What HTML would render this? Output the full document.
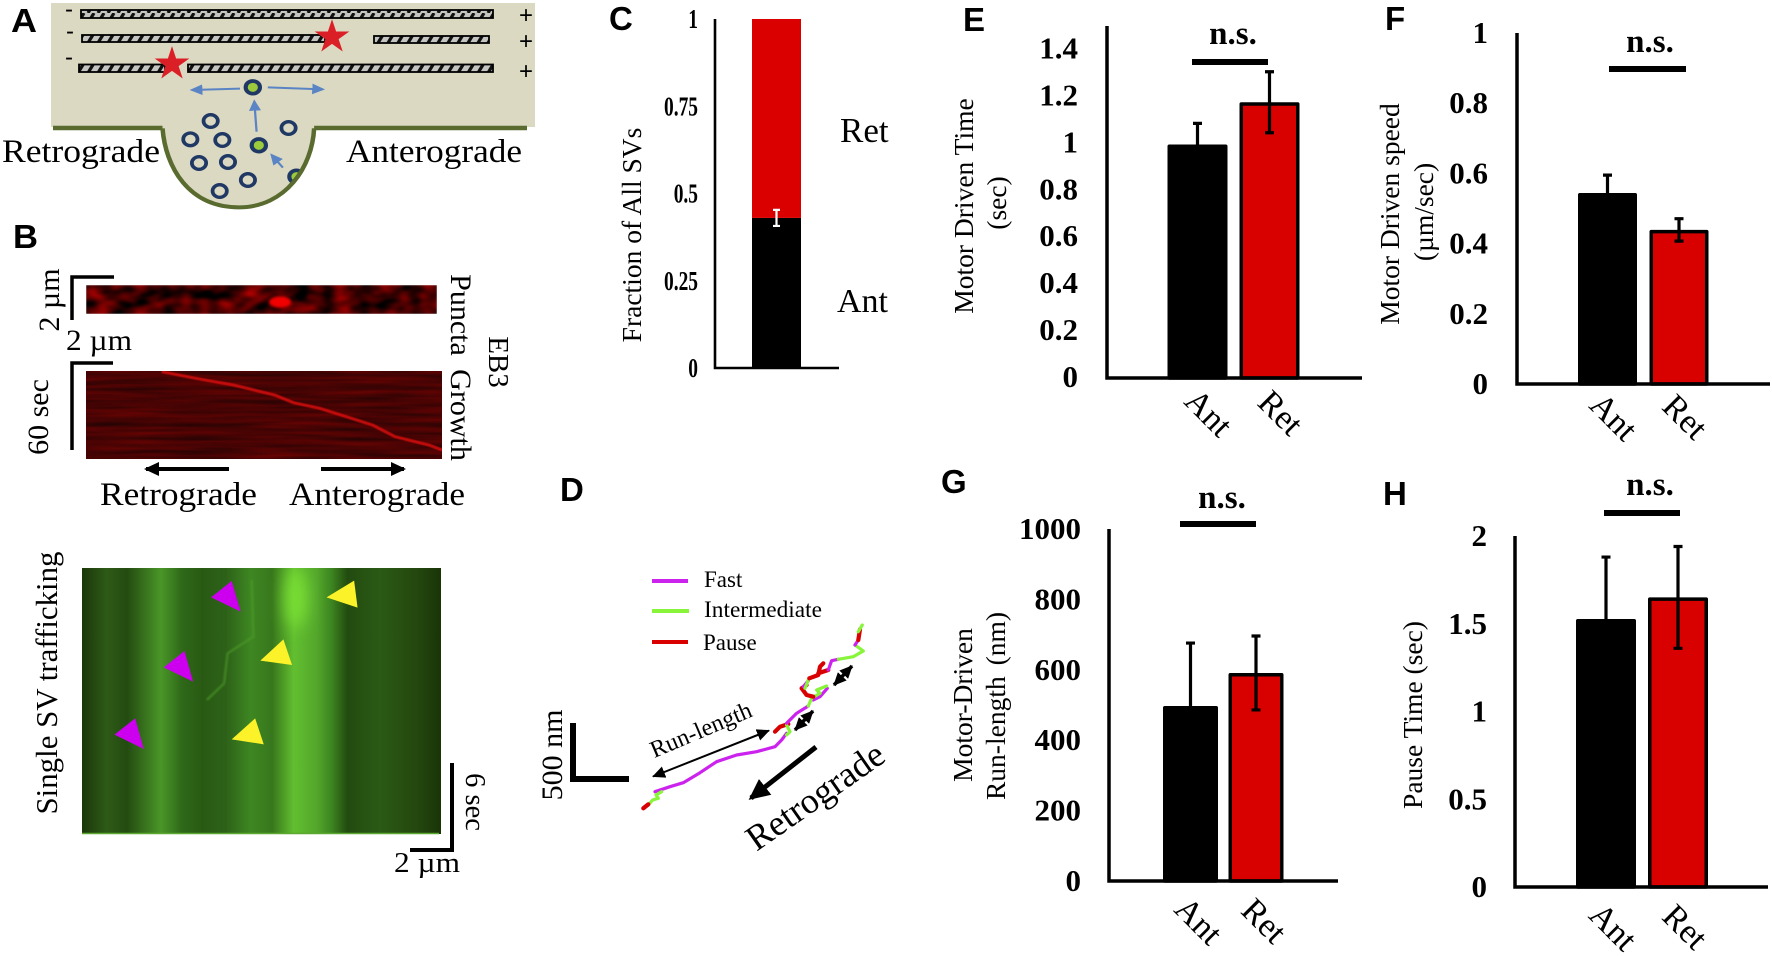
<!DOCTYPE html>
<html lang="en">
<head>
<meta charset="utf-8">
<title>Synaptic vesicle trafficking figure</title>
<style>
html,body{margin:0;padding:0;background:#fff;width:1772px;height:956px;overflow:hidden}
svg{display:block}
text{font-family:"Liberation Serif",serif;fill:#000}
.panel{font-family:"Liberation Sans",sans-serif;font-weight:700;font-size:33px}
.sign{font-family:"Liberation Sans",sans-serif;font-size:24px}
</style>
</head>
<body>
<svg id="figure" xmlns="http://www.w3.org/2000/svg" width="1772" height="956" viewBox="0 0 1772 956">
<defs>
  <pattern id="mt" patternUnits="userSpaceOnUse" width="10" height="10" patternTransform="translate(0 3)">
    <rect width="10" height="10" fill="#c4c4c1"/>
    <path d="M-2,10 L4,0 M8,10 L14,0" stroke="#111" stroke-width="3.2"/>
  </pattern>
  <marker id="head" markerUnits="userSpaceOnUse" markerWidth="16" markerHeight="16" refX="13" refY="8" orient="auto-start-reverse"><path d="M0,1 L15,8 L0,15 Z" fill="#000"/></marker>
  <marker id="headLarge" markerUnits="userSpaceOnUse" markerWidth="22" markerHeight="20" refX="18" refY="10" orient="auto"><path d="M0,0 L21,10 L0,20 Z" fill="#000"/></marker>
  <marker id="headSmall" markerUnits="userSpaceOnUse" markerWidth="14" markerHeight="12" refX="12" refY="6" orient="auto-start-reverse"><path d="M0,0 L13,6 L0,12 Z" fill="#000"/></marker>
  <marker id="headBlue" markerUnits="userSpaceOnUse" markerWidth="36" markerHeight="36" refX="28" refY="18" orient="auto"><path d="M0,2 L34,18 L0,34 Z" fill="#5B84C4"/></marker>
  <clipPath id="bulbClip"><path d="M432,385 C440,500 500,622 635,622 C760,622 830,500 835,385 Z"/></clipPath>
  <clipPath id="kymoClip"><rect x="82" y="568" width="359" height="266"/></clipPath>
  <clipPath id="cometClip"><rect x="86" y="371" width="356" height="88"/></clipPath>
  <filter id="noiseA" x="0" y="0" width="100%" height="100%" color-interpolation-filters="sRGB">
    <feTurbulence type="fractalNoise" baseFrequency=".045 .08" numOctaves="2" seed="4"/>
    <feColorMatrix type="matrix" values="1.1 0 0 0 -.28  0 0 0 0 0  0 0 0 0 0  0 0 0 0 1"/>
    <feGaussianBlur stdDeviation=".8"/>
  </filter>
  <filter id="noiseB" x="0" y="0" width="100%" height="100%" color-interpolation-filters="sRGB">
    <feTurbulence type="fractalNoise" baseFrequency=".012 .22" numOctaves="2" seed="7"/>
    <feColorMatrix type="matrix" values=".35 0 0 0 .11  0 0 0 0 .01  0 0 0 0 .01  0 0 0 0 1"/>
  </filter>
  <filter id="blur1" x="-10%" y="-30%" width="120%" height="160%"><feGaussianBlur stdDeviation="1.300"/></filter>
  <filter id="blur3" x="-30%" y="-30%" width="160%" height="160%"><feGaussianBlur stdDeviation="2.500"/></filter>
  <filter id="blur8" x="-80%" y="-50%" width="260%" height="200%"><feGaussianBlur stdDeviation="8"/></filter>
  <linearGradient id="bands" x1="0" x2="1" y1="0" y2="0">
    <stop offset="0" stop-color="#1b380b"/><stop offset=".07" stop-color="#2e5a17"/>
    <stop offset=".125" stop-color="#234b11"/><stop offset=".22" stop-color="#4a9628"/>
    <stop offset=".28" stop-color="#2e6818"/><stop offset=".335" stop-color="#295a14"/>
    <stop offset=".40" stop-color="#2d6118"/><stop offset=".47" stop-color="#3e8722"/>
    <stop offset=".53" stop-color="#38771d"/><stop offset=".59" stop-color="#62bf30"/>
    <stop offset=".655" stop-color="#53a62b"/><stop offset=".695" stop-color="#3d8520"/>
    <stop offset=".74" stop-color="#224b10"/><stop offset=".83" stop-color="#2b5a15"/>
    <stop offset=".93" stop-color="#24480f"/><stop offset="1" stop-color="#193407"/>
  </linearGradient>
</defs>

<!-- Panel letters -->
<text class="panel" x="11" y="32" textLength="26" lengthAdjust="spacingAndGlyphs">A</text>
<text class="panel" x="13" y="248" textLength="25" lengthAdjust="spacingAndGlyphs">B</text>
<text class="panel" x="609" y="30">C</text>
<text class="panel" x="560" y="501">D</text>
<text class="panel" x="963" y="31">E</text>
<text class="panel" x="1385" y="30">F</text>
<text class="panel" x="941" y="493">G</text>
<text class="panel" x="1383" y="505">H</text>

<!-- Panel A schematic -->
<g>
  <rect x="51" y="3" width="484" height="124" fill="#DBD9C2"/>
  <path d="M53,128 H165" stroke="#5A6B2F" stroke-width="4.5" fill="none"/>
  <path d="M314,128 H527" stroke="#5A6B2F" stroke-width="4.5" fill="none"/>
  <rect x="81" y="10" width="412" height="8" fill="url(#mt)" stroke="#000" stroke-width="1.800"/>
  <rect x="82" y="35" width="243" height="7" fill="url(#mt)" stroke="#000" stroke-width="1.800"/>
  <rect x="374" y="36" width="115" height="7" fill="url(#mt)" stroke="#000" stroke-width="1.800"/>
  <rect x="79" y="64.500" width="86" height="7.500" fill="url(#mt)" stroke="#000" stroke-width="1.800"/>
  <rect x="188" y="64.500" width="305" height="7.500" fill="url(#mt)" stroke="#000" stroke-width="1.800"/>
  <polygon transform="translate(332,37) scale(1.14,1.12)" points="0,-16 3.6,-4.9 15.2,-4.9 5.8,1.9 9.4,12.9 0,6.1 -9.4,12.9 -5.8,1.9 -15.2,-4.9 -3.6,-4.9" fill="#DB1F26"/>
  <polygon transform="translate(172,64) scale(1.14,1.12)" points="0,-16 3.6,-4.9 15.2,-4.9 5.8,1.9 9.4,12.9 0,6.1 -9.4,12.9 -5.8,1.9 -15.2,-4.9 -3.6,-4.9" fill="#DB1F26"/>
  <text class="sign" x="65" y="17">-</text>
  <text class="sign" x="66" y="39">-</text>
  <text class="sign" x="65" y="65">-</text>
  <text class="sign" x="519" y="23">+</text>
  <text class="sign" x="519" y="49">+</text>
  <text class="sign" x="519" y="79">+</text>
  <g transform="scale(.3762,.33333)">
    <path d="M432,370 L432,385 C440,500 500,622 635,622 C760,622 830,500 835,385 L835,370 Z" fill="#DBD9C2"/>
    <g fill="none" stroke="#1F3864" stroke-width="10">
      <circle cx="560" cy="363" r="19"/>
      <circle cx="506" cy="418" r="19"/>
      <circle cx="591" cy="420" r="19"/>
      <circle cx="529" cy="489" r="19"/>
      <circle cx="606" cy="486" r="19"/>
      <circle cx="659" cy="540" r="19"/>
      <circle cx="584" cy="573" r="19"/>
      <circle cx="767" cy="384" r="19"/>
    </g>
    <g fill="#9BCB3C" stroke="#1F3864" stroke-width="11">
      <circle cx="672" cy="262" r="19"/>
      <circle cx="688" cy="436" r="19"/>
      <circle cx="788" cy="530" r="19" clip-path="url(#bulbClip)"/>
    </g>
    <path d="M432,385 C440,500 500,622 635,622 C760,622 830,500 835,385" fill="none" stroke="#5A6B2F" stroke-width="12"/>
    <g stroke="#5B84C4" stroke-width="6" fill="none">
      <line x1="638" y1="266" x2="510" y2="270" marker-end="url(#headBlue)"/>
      <line x1="712" y1="262" x2="858" y2="268" marker-end="url(#headBlue)"/>
      <line x1="682" y1="395" x2="676" y2="304" marker-end="url(#headBlue)"/>
      <line x1="752" y1="503" x2="722" y2="465" marker-end="url(#headBlue)"/>
    </g>
  </g>
  <text x="2" y="162" textLength="158" lengthAdjust="spacingAndGlyphs" style="font-size:33px">Retrograde</text>
  <text x="346" y="162" textLength="176" lengthAdjust="spacingAndGlyphs" style="font-size:33px">Anterograde</text>
</g>

<!-- Panel B images -->
<g>
  <path d="M114,277 H72 V320" fill="none" stroke="#000" stroke-width="3.500"/>
  <text transform="translate(59,300) rotate(-90)" text-anchor="middle" style="font-size:30px">2 µm</text>
  <text x="66" y="350" textLength="66" lengthAdjust="spacingAndGlyphs" style="font-size:30px">2 µm</text>
  <rect x="86" y="285" width="351" height="29" filter="url(#noiseA)"/>
  <ellipse cx="280" cy="302" rx="11" ry="5.500" fill="#f00000" filter="url(#blur1)"/>
  <path d="M113,363 H72 V450" fill="none" stroke="#000" stroke-width="3.500"/>
  <text transform="translate(48,417) rotate(-90)" text-anchor="middle" style="font-size:30px">60 sec</text>
  <rect x="86" y="371" width="356" height="88" filter="url(#noiseB)"/>
  <g clip-path="url(#cometClip)">
    <path transform="scale(.3762,.33333)" d="M430,1115 L520,1135 L620,1155 L730,1185 L780,1208 L850,1225 L990,1275 L1050,1310 L1140,1335 L1175,1350" fill="none" stroke="#d81010" stroke-width="9" opacity=".85" filter="url(#blur1)"/>
  </g>
  <text transform="translate(451,315) rotate(90)" text-anchor="middle" style="font-size:30px">Puncta</text>
  <text transform="translate(451,415) rotate(90)" text-anchor="middle" style="font-size:30px">Growth</text>
  <text transform="translate(489,362) rotate(90)" text-anchor="middle" style="font-size:29px">EB3</text>
  <line x1="229" y1="469" x2="146" y2="469" stroke="#000" stroke-width="4" marker-end="url(#head)"/>
  <line x1="321" y1="469" x2="404" y2="469" stroke="#000" stroke-width="4" marker-end="url(#head)"/>
  <text x="100" y="505" textLength="157" lengthAdjust="spacingAndGlyphs" style="font-size:33px">Retrograde</text>
  <text x="289" y="505" textLength="176" lengthAdjust="spacingAndGlyphs" style="font-size:33px">Anterograde</text>
</g>

<g>
  <text transform="translate(57,683) rotate(-90)" text-anchor="middle" textLength="263" lengthAdjust="spacingAndGlyphs" style="font-size:30.500px">Single SV trafficking</text>
  <rect x="82" y="568" width="359" height="266" fill="url(#bands)"/>
  <g clip-path="url(#kymoClip)">
    <ellipse cx="296" cy="598" rx="11" ry="30" fill="#7fe636" opacity=".85" filter="url(#blur8)"/>
    <path transform="translate(0,480) scale(.3448,.33333)" d="M730,300 L735,470 L660,520 L650,610 L600,660" fill="none" stroke="#4f9e2a" stroke-width="8" opacity=".5" filter="url(#blur3)"/>
  </g>
  <line x1="82" y1="833.500" x2="439" y2="833.500" stroke="#5aa830" stroke-width="1.500"/>
  <g transform="translate(0,480) scale(.3448,.33333)">
    <polygon points="672,303 612,352 698,395" fill="#CC00EE"/>
    <polygon points="535,513 475,562 560,605" fill="#CC00EE"/>
    <polygon points="392,715 332,764 417,807" fill="#CC00EE"/>
    <polygon points="1027,302 947,352 1037,383" fill="#FBF22A"/>
    <polygon points="822,478 755,542 847,555" fill="#FBF22A"/>
    <polygon points="740,715 672,778 765,793" fill="#FBF22A"/>
  </g>
  <path d="M410,850 H452 V763" fill="none" stroke="#000" stroke-width="4"/>
  <text x="394" y="872" textLength="66" lengthAdjust="spacingAndGlyphs" style="font-size:29px">2 µm</text>
  <text transform="translate(466,802) rotate(90)" text-anchor="middle" style="font-size:28.500px">6 sec</text>
</g>

<!-- Panel D static annotation -->
<g>
  <line x1="652" y1="581" x2="688" y2="581" stroke="#CC22EE" stroke-width="4"/>
  <line x1="652" y1="611" x2="689" y2="611" stroke="#88F53A" stroke-width="4"/>
  <line x1="652" y1="642" x2="688" y2="642" stroke="#D80000" stroke-width="4"/>
  <text x="704" y="587" style="font-size:23px">Fast</text>
  <text x="704" y="617" textLength="118" lengthAdjust="spacingAndGlyphs" style="font-size:23px">Intermediate</text>
  <text x="703" y="650" style="font-size:23px">Pause</text>
  <path d="M573,723 V779 H629" fill="none" stroke="#000" stroke-width="6"/>
  <text transform="translate(562,755) rotate(-90)" text-anchor="middle" style="font-size:30px">500 nm</text>
  <text transform="translate(704,737) rotate(-23)" text-anchor="middle" style="font-size:24px">Run-length</text>
  <line x1="653" y1="776.500" x2="769" y2="730.500" stroke="#000" stroke-width="2" marker-start="url(#headSmall)" marker-end="url(#headSmall)"/>
  <line x1="795" y1="730" x2="813" y2="711" stroke="#000" stroke-width="3.500" marker-start="url(#headSmall)" marker-end="url(#headSmall)"/>
  <line x1="834" y1="685" x2="852" y2="666" stroke="#000" stroke-width="3.500" marker-start="url(#headSmall)" marker-end="url(#headSmall)"/>
  <line x1="816" y1="747" x2="751" y2="798" stroke="#000" stroke-width="5" marker-end="url(#headLarge)"/>
  <text transform="translate(822,806) rotate(-35)" text-anchor="middle" style="font-size:36px">Retrograde</text>
</g>

<!-- Static titles for the bar charts -->
<g>
  <text transform="translate(641,235) rotate(-90)" text-anchor="middle" style="font-size:27.500px">Fraction of All SVs</text>
  <text x="840" y="142" style="font-size:35px">Ret</text>
  <text x="837" y="312" style="font-size:34px">Ant</text>
</g>
<g>
  <text transform="translate(973,206) rotate(-90)" text-anchor="middle" style="font-size:27.500px">Motor Driven Time</text>
  <text transform="translate(1006,203) rotate(-90)" text-anchor="middle" style="font-size:27.500px">(sec)</text>
  <text transform="translate(1399,214) rotate(-90)" text-anchor="middle" style="font-size:27.500px">Motor Driven speed</text>
  <text transform="translate(1433,212) rotate(-90)" text-anchor="middle" style="font-size:27.500px">(µm/sec)</text>
  <text transform="translate(972,705) rotate(-90)" text-anchor="middle" style="font-size:27.500px">Motor-Driven</text>
  <text transform="translate(1005,706) rotate(-90)" text-anchor="middle" style="font-size:27.500px;word-spacing:4px">Run-length (nm)</text>
  <text transform="translate(1422,715) rotate(-90)" text-anchor="middle" style="font-size:27.500px">Pause Time (sec)</text>
</g>

<script>
// Shared categories
const categories = ['Ant', 'Ret'];

// Panel C: stacked fraction
const cTickLabels = ['0', '0.25', '0.5', '0.75', '1'];
const cAntFraction = 0.43;
const cRetFraction = 0.57;
const cAntError = 0.023;

// Panel E: motor driven time
const eTickLabels = ['0', '0.2', '0.4', '0.6', '0.8', '1', '1.2', '1.4'];
const eValues = [0.995, 1.175];
const eErrors = [0.09, 0.13];

// Panel F: motor driven speed
const fTickLabels = ['0', '0.2', '0.4', '0.6', '0.8', '1'];
const fValues = [0.544, 0.439];
const fErrors = [0.051, 0.032];

// Panel G: run length
const gTickLabels = ['0', '200', '400', '600', '800', '1000'];
const gValues = [497, 591];
const gErrors = [179, 105];

// Panel H: pause time
const hTickLabels = ['0', '0.5', '1', '1.5', '2'];
const hValues = [1.527, 1.65];
const hErrors = [0.353, 0.29];

// Panel D: trajectory segments, in nm from the lower-left end of the track
const trackStates = ['fast','intermediate','pause','pause','intermediate','fast','fast','intermediate','pause','fast','intermediate','pause','pause','fast','intermediate','fast','pause','intermediate'];
const trackXNm = [
  [105,240,360,510,660,840,1020,1185,1245,1290],
  [45,84,135,114,165],
  [0,45],
  [1185,1230,1305],
  [1290,1320,1290],
  [1290,1380,1485],
  [1530,1590,1656],
  [1485,1515,1590,1560,1650],
  [1470,1425,1470,1530],
  [1440,1485],
  [1485,1455],
  [1494,1575,1590,1620],
  [1575,1665],
  [1665,1695,1755],
  [1755,1890,1980,1905],
  [1905,1935],
  [1935,1950],
  [1935,1971]
];
const trackYNm = [
  [165,210,246,336,435,495,525,570,630,690],
  [45,90,105,135,165],
  [15,51],
  [705,750,774],
  [765,705,675],
  [780,870,936],
  [990,1020,1095],
  [936,1005,1050,1080,1116],
  [1125,1095,1035,1020],
  [1110,1164],
  [1170,1095],
  [1185,1215,1290,1320],
  [1230,1260],
  [1260,1344,1356],
  [1356,1380,1431,1485],
  [1485,1530],
  [1530,1626],
  [1605,1665]
];
const trackColors = { fast: '#CC22EE', intermediate: '#88F53A', pause: '#D80000' };

const NS = 'http://www.w3.org/2000/svg';
const root = document.getElementById('figure');

function make(tag, attrs, parent) {
  const node = document.createElementNS(NS, tag);
  for (const key in attrs) node.setAttribute(key, attrs[key]);
  parent.appendChild(node);
  return node;
}

function drawBarChart(cfg, tickLabels, values, errors) {
  const g = make('g', {}, root);
  
  
  const yScale = v => cfg.yBase - (v / cfg.yMax) * (cfg.yBase - cfg.yTop);
  const xScale = i => cfg.xFirst + i * cfg.step;

  tickLabels.forEach(label => {
    const t = make('text', {
      x: cfg.labelRight, y: yScale(parseFloat(label)) + 10 + cfg.tickDy,
      'text-anchor': 'end', 'font-weight': '700',
      style: 'font-size:31px'
    }, g);
    t.textContent = label;
    
    
  });

  values.forEach((v, i) => {
    const isRet = i === 1;
    const bar = make('rect', {
      x: xScale(i) - cfg.barWidth / 2 + 1.75, y: yScale(v) + 1.75,
      width: cfg.barWidth - 3.5, height: Math.max(0, yScale(0) - yScale(v) - 1.75),
      fill: isRet ? '#D90000' : '#000', stroke: '#000', 'stroke-width': 3.5,
      'stroke-linejoin': 'round'
    }, g);
    
    

    const hi = yScale(v + errors[i]);
    const lo = yScale(v - errors[i]);
    const err = make('path', {
      d: 'M' + (xScale(i) - 4.5) + ',' + hi + ' H' + (xScale(i) + 4.5) +
         ' M' + xScale(i) + ',' + hi + ' V' + lo +
         ' M' + (xScale(i) - 4.5) + ',' + lo + ' H' + (xScale(i) + 4.5),
      stroke: '#000', 'stroke-width': 3.2, fill: 'none'
    }, g);
    
    

    const lab = make('text', {
      transform: 'translate(' + (xScale(i) + cfg.labelDx) + ',' + (cfg.yBase + cfg.labelDy) + ') rotate(45)',
      'text-anchor': 'middle', y: 11, style: 'font-size:34px'
    }, g);
    lab.textContent = categories[i];
    
    
  });

  const axes = make('path', {
    d: 'M' + cfg.xAxis + ',' + cfg.yTop + ' V' + cfg.yBase + ' H' + cfg.xRight,
    stroke: '#000', 'stroke-width': 3.5, fill: 'none'
  }, g);
  
  

  const sig = make('line', {
    x1: cfg.sigX1, x2: cfg.sigX2, y1: cfg.sigY, y2: cfg.sigY, stroke: '#000', 'stroke-width': 6
  }, g);
  
  

  const ns = make('text', {
    x: cfg.nsX, y: cfg.nsY, 'text-anchor': 'middle', 'font-weight': '700', style: 'font-size:33px'
  }, g);
  ns.textContent = 'n.s.';
  
  
}

drawBarChart({ xAxis: 1107, xRight: 1362, yBase: 378, yTop: 26, yMax: 1.5, labelRight: 1078, tickDy: -1,
  xFirst: 1197.5, step: 72, barWidth: 60, labelDx: 11, labelDy: 35,
  sigX1: 1192, sigX2: 1268, sigY: 62, nsX: 1233, nsY: 44 }, eTickLabels, eValues, eErrors);

drawBarChart({ xAxis: 1517, xRight: 1770, yBase: 384, yTop: 33, yMax: 1, labelRight: 1488, tickDy: 0,
  xFirst: 1607.5, step: 71.5, barWidth: 59, labelDx: 6, labelDy: 33,
  sigX1: 1609, sigX2: 1686, sigY: 69, nsX: 1650, nsY: 52 }, fTickLabels, fValues, fErrors);

drawBarChart({ xAxis: 1109, xRight: 1338, yBase: 881, yTop: 529, yMax: 1000, labelRight: 1081, tickDy: 0,
  xFirst: 1190.5, step: 65.5, barWidth: 55, labelDx: 8, labelDy: 40,
  sigX1: 1180, sigX2: 1256, sigY: 524, nsX: 1222, nsY: 508 }, gTickLabels, gValues, gErrors);

drawBarChart({ xAxis: 1515, xRight: 1768, yBase: 887, yTop: 536, yMax: 2, labelRight: 1487, tickDy: 0,
  xFirst: 1606, step: 72, barWidth: 60, labelDx: 7, labelDy: 40,
  sigX1: 1604, sigX2: 1680, sigY: 513, nsX: 1650, nsY: 495 }, hTickLabels, hValues, hErrors);

// Panel C stacked bar
(function drawStacked() {
  const g = make('g', {}, root);
  
  
  const yBase = 368, yTop = 19, xAxis = 715, xRight = 839, barX = 752, barW = 49;
  const yScale = v => yBase - v * (yBase - yTop);

  cTickLabels.forEach(label => {
    const t = make('text', {
      transform: 'translate(698,' + (yScale(parseFloat(label)) + 9) + ') scale(.72,1)',
      'text-anchor': 'end', 'font-weight': '700', style: 'font-size:27px'
    }, g);
    t.textContent = label;
    
    
  });

  const ant = make('rect', { x: barX, y: yScale(cAntFraction), width: barW, height: yScale(0) - yScale(cAntFraction), fill: '#000' }, g);
  
  

  const ret = make('rect', { x: barX, y: yScale(cAntFraction + cRetFraction), width: barW, height: yScale(cAntFraction) - yScale(cAntFraction + cRetFraction), fill: '#DA0000' }, g);
  
  

  const cx = barX + barW / 2;
  const hi = yScale(cAntFraction + cAntError);
  const lo = yScale(cAntFraction - cAntError);
  const err = make('path', {
    d: 'M' + (cx - 3.5) + ',' + hi + ' H' + (cx + 3.5) + ' M' + cx + ',' + hi + ' V' + lo + ' M' + (cx - 3.5) + ',' + lo + ' H' + (cx + 3.5),
    stroke: '#fff', 'stroke-width': 2.2, fill: 'none'
  }, g);
  
  

  const axes = make('path', { d: 'M' + xAxis + ',' + yTop + ' V' + yBase + ' H' + xRight, stroke: '#000', 'stroke-width': 2.6, fill: 'none' }, g);
  
  
})();

// Panel D trajectory
(function drawTrack() {
  const g = make('g', {}, root);
  
  
  const xNm = nm => 643.3 + nm / 9;
  const yNm = nm => 810 - nm / 9;
  trackStates.forEach((state, s) => {
    const pts = trackXNm[s].map((x, i) => xNm(x).toFixed(1) + ',' + yNm(trackYNm[s][i]).toFixed(1)).join(' ');
    const line = make('polyline', {
      points: pts, fill: 'none', stroke: trackColors[state],
      'stroke-width': state === 'pause' ? 4.2 : 3.2, 'stroke-linejoin': 'round', 'stroke-linecap': 'round'
    }, g);
    
    
  });
})();
</script>
</svg>
</body>
</html>
